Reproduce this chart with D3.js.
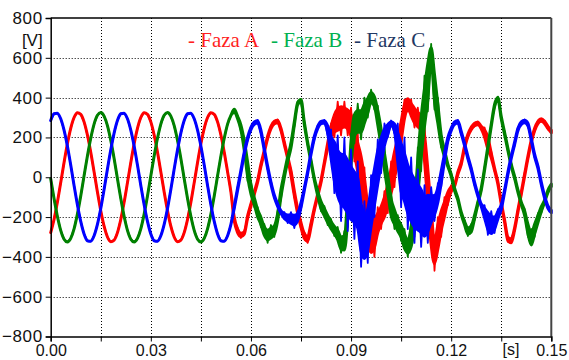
<!DOCTYPE html>
<html>
<head>
<meta charset="utf-8">
<script src="https://cdn.jsdelivr.net/npm/d3@7/dist/d3.min.js"></script>
<style>
  body { margin: 0; background: #fff; }
  svg { display: block; }
</style>
</head>
<body>
<div id="chart"></div>
<script>
// one sample every millisecond, 0 .. 0.15 s
const T_STEP = 0.001

// Faza A (red), volts
const fazaA = [
  -278, -212, -126, -27, 74, 168, 246, 300, 324, 316, 278, 212, 126, 27, -74, -168, -246, -300, -324, -316,
  -278, -212, -126, -27, 74, 168, 246, 300, 324, 316, 278, 212, 126, 27, -74, -168, -246, -300, -324, -316,
  -278, -212, -126, -27, 74, 168, 246, 300, 324, 316, 278, 212, 126, 27, -74,
  -210, -270, -290, -280, -200,
  -140, -80, -20, 60, 130, 200, 250, 275, 280, 240,
  170, 100, 20, -80, -170, -240, -295, -310, -240, -160,
  -90, -20, 70, 160, 230, 270, 290, 300, 300, 290,
  260, 180, 100, 20, -80, -230, -300, -280, -230, -190,
  -150, -90, -20, 60, 140, 230, 330, 370, 340, 310,
  290, 270, 150, -50, -250, -380, -300, -220, -160, -100,
  -60, -40, 20, 70, 150, 210, 245, 265, 270, 250,
  220, 170, 110, 40, -30, -130, -220, -310, -320, -260,
  -170, -80, 10, 100, 180, 240, 275, 288, 275, 250, 230
]
// Faza B (green)
const fazaB = [
  -7, -107, -196, -267, -311, -325, -307, -259, -185, -94, 7, 107, 196, 267, 311, 325, 307, 259, 185, 94,
  -7, -107, -196, -267, -311, -325, -307, -259, -185, -94, 7, 107, 196, 267, 311, 325, 307, 259, 185, 94,
  -7, -107, -196, -267, -311, -325, -307, -259, -185, -94, 7, 107, 196, 267, 311,
  335, 300, 250, 160, 40,
  -60, -120, -180, -220, -270, -290, -280, -265, -200, -80,
  10, 90, 160, 270, 370, 385, 270, 170, 80, -10,
  -80, -140, -175, -210, -240, -265, -290, -330, -330, -150,
  120, 260, 280, 280, 320, 360, 400, 380, 300, 200,
  80, -30, -150, -200, -240, -270, -320, -350, -300, -200,
  0, 200, 350, 480, 620, 450, 320, 190, 120, 60,
  10, -60, -110, -180, -230, -270, -260, -200, -130, -60,
  40, 150, 260, 360, 395, 300, 220, 140, 60, 0,
  -70, -130, -180, -260, -310, -260, -210, -160, -120, -70, -40
]
// Faza C (blue)
const fazaC = [
  285, 319, 322, 294, 237, 157, 61, -41, -138, -222, -285, -319, -322, -294, -237, -157, -61, 41, 138, 222,
  285, 319, 322, 294, 237, 157, 61, -41, -138, -222, -285, -319, -322, -294, -237, -157, -61, 41, 138, 222,
  285, 319, 322, 294, 237, 157, 61, -41, -138, -222, -285, -319, -322, -294, -237,
  -150, -60, 30, 120, 195,
  245, 272, 278, 230, 140, 50, -30, -95, -140, -175,
  -195, -205, -210, -215, -200, -140, -60, 25, 120, 200,
  250, 275, 278, 240, 150, 80, 20, -10, -20, -50,
  -80, -100, -130, -250, -300, -260, -150, -50, 50, 130,
  200, 240, 270, 250, 150, 50, 0, -60, -100, -130,
  -150, -170, -200, -180, -160, -140, -90, 0, 100, 190,
  240, 272, 278, 225, 165, 100, 40, -30, -90, -140,
  -180, -220, -240, -230, -190, -150, -70, 20, 100, 170,
  240, 272, 280, 265, 190, 110, 50, -30, -100, -150, -172
]

// half width of the high frequency ripple around each trace, volts
const rippleA = [
  0, 0, 0, 0, 0, 0, 0, 0, 0, 0, 0, 0, 0, 0, 0, 0, 0, 0, 0, 0,
  0, 0, 0, 0, 0, 0, 0, 0, 0, 0, 0, 0, 0, 0, 0, 0, 0, 0, 0, 0,
  0, 0, 0, 0, 0, 0, 0, 0, 0, 0, 0, 0, 0, 0, 0,
  15, 15, 15, 10, 10,
  10, 10, 10, 10, 10, 10, 10, 10, 10, 10,
  10, 10, 20, 20, 20, 20, 20, 20, 15, 10,
  10, 10, 10, 20, 40, 70, 90, 90, 80, 80,
  90, 100, 120, 140, 130, 150, 130, 120, 80, 70,
  80, 90, 100, 110, 100, 80, 60, 40, 50, 60,
  60, 60, 110, 150, 150, 90, 100, 80, 60, 40,
  20, 10, 10, 10, 10, 10, 10, 10, 10, 10,
  30, 50, 20, 10, 10, 10, 10, 15, 15, 10,
  10, 10, 10, 10, 10, 10, 10, 10, 10, 10, 10
]
const rippleB = [
  0, 0, 0, 0, 0, 0, 0, 0, 0, 0, 0, 0, 0, 0, 0, 0, 0, 0, 0, 0,
  0, 0, 0, 0, 0, 0, 0, 0, 0, 0, 0, 0, 0, 0, 0, 0, 0, 0, 0, 0,
  0, 0, 0, 0, 0, 0, 0, 0, 0, 0, 0, 0, 0, 0, 0,
  10, 10, 20, 40, 60,
  40, 30, 30, 30, 35, 40, 40, 35, 30, 30,
  20, 20, 20, 15, 10, 10, 10, 10, 10, 10,
  20, 30, 30, 30, 30, 30, 40, 50, 60, 100,
  100, 90, 90, 90, 80, 60, 40, 40, 60, 70,
  70, 70, 70, 60, 50, 50, 60, 50, 80, 100,
  150, 170, 160, 150, 50, 110, 80, 40, 30, 10,
  10, 10, 10, 10, 15, 25, 25, 15, 10, 10,
  10, 10, 10, 10, 10, 10, 10, 10, 10, 10,
  10, 10, 20, 40, 50, 40, 30, 20, 10, 10, 10
]
const rippleC = [
  0, 0, 0, 0, 0, 0, 0, 0, 0, 0, 0, 0, 0, 0, 0, 0, 0, 0, 0, 0,
  0, 0, 0, 0, 0, 0, 0, 0, 0, 0, 0, 0, 0, 0, 0, 0, 0, 0, 0, 0,
  0, 0, 0, 0, 0, 0, 0, 0, 0, 0, 0, 0, 0, 0, 0,
  10, 10, 10, 10, 10,
  10, 10, 10, 10, 10, 10, 10, 10, 10, 10,
  20, 25, 35, 40, 30, 20, 10, 10, 10, 10,
  10, 10, 10, 30, 90, 160, 190, 210, 220, 220,
  220, 210, 210, 200, 180, 170, 160, 150, 140, 110,
  70, 40, 15, 30, 120, 200, 200, 200, 200, 200,
  190, 180, 160, 150, 110, 80, 60, 50, 30, 15,
  10, 10, 10, 10, 10, 10, 10, 10, 10, 10,
  40, 70, 70, 50, 30, 20, 10, 10, 10, 10,
  10, 10, 10, 10, 10, 10, 10, 10, 10, 10, 10
]

const yTicks = [-800, -600, -400, -200, 0, 200, 400, 600, 800]
const xTicks = [0, 0.015, 0.03, 0.045, 0.06, 0.075, 0.09, 0.105, 0.12, 0.135, 0.15]
const xLabels = [0, 0.03, 0.06, 0.09, 0.12, 0.15]
const seriesNames = ['Faza A', 'Faza B', 'Faza C']

const LINE_COLORS = ['#ff0000', '#008000', '#0000ff']
const TEXT_COLORS = ['#ff1f1f', '#00b050', '#1f3864']

const WIDTH = 569
const HEIGHT = 360
const LEFT = 50.7
const RIGHT = 551.3
const TOP = 18
const BOTTOM = 336.5
const CORE = 0.6   // part of the ripple band drawn solid
const FONT = "'Liberation Sans', Arial, sans-serif"

const svg = d3.select('#chart').append('svg')
  .attr('width', WIDTH)
  .attr('height', HEIGHT)
  .style('background', '#fff')

const x = d3.scaleLinear().domain([0, 0.15]).range([LEFT, RIGHT])
const y = d3.scaleLinear().domain([-800, 800]).range([BOTTOM, TOP])

// dotted grid
const grid = svg.append('g')
  .attr('stroke', '#000')
  .attr('stroke-width', 1)
  .attr('stroke-dasharray', '1,2')
grid.selectAll('.gy')
  .data(yTicks.slice(1, -1))
  .enter().append('line')
  .attr('x1', LEFT).attr('x2', RIGHT)
  .attr('y1', d => Math.round(y(d)) + 0.5)
  .attr('y2', d => Math.round(y(d)) + 0.5)
grid.selectAll('.gx')
  .data(xTicks.slice(1, -1))
  .enter().append('line')
  .attr('y1', TOP).attr('y2', BOTTOM)
  .attr('x1', d => Math.round(x(d)) + 0.5)
  .attr('x2', d => Math.round(x(d)) + 0.5)

// traces: solid core band around the value, then a zigzag that
// swings to +ripple / -ripple on alternate samples for the spiky fringe
const allSeries = [[fazaA, rippleA], [fazaB, rippleB], [fazaC, rippleC]]
const core = d3.area()
  .x(d => x(d.t))
  .y0(d => y(d.v - d.r * CORE))
  .y1(d => y(d.v + d.r * CORE))
  .curve(d3.curveMonotoneX)
const zigzag = d3.line()
  .x(d => x(d.t))
  .y(d => y(d.v + (d.k % 2 ? -d.r : d.r)))

const plot = svg.append('g')
allSeries.forEach(([vals, rip], i) => {
  const rows = vals.map((v, k) => ({t: k * T_STEP, v: v, r: rip[k], k: k}))
  plot.append('path')
    .datum(rows)
    .attr('d', core)
    .attr('fill', LINE_COLORS[i])
    .attr('stroke', LINE_COLORS[i])
    .attr('stroke-width', 3)
    .attr('stroke-linejoin', 'round')
  plot.append('path')
    .datum(rows)
    .attr('d', zigzag)
    .attr('fill', 'none')
    .attr('stroke', LINE_COLORS[i])
    .attr('stroke-width', 1.8)
    .attr('stroke-linejoin', 'round')
})

// frame
svg.append('line')
  .attr('x1', LEFT).attr('x2', RIGHT).attr('y1', TOP).attr('y2', TOP)
  .attr('stroke', '#000').attr('stroke-width', 1.5)
svg.append('line')
  .attr('x1', RIGHT).attr('x2', RIGHT).attr('y1', TOP).attr('y2', BOTTOM)
  .attr('stroke', '#444').attr('stroke-width', 2)

// axes
const yAxisG = svg.append('g')
  .attr('transform', `translate(${LEFT}, 0)`)
  .call(d3.axisLeft(y).tickValues(yTicks).tickSize(5).tickPadding(3).tickFormat(d3.format('d')))
yAxisG.select('.domain').attr('stroke', '#000').attr('stroke-width', 1.5)
yAxisG.selectAll('.tick line').attr('stroke', '#000')
yAxisG.selectAll('.tick text')
  .attr('font-family', FONT)
  .attr('font-size', '17px')
  .attr('letter-spacing', '0.6px')
  .attr('fill', '#111')

const xAxisG = svg.append('g')
  .attr('transform', `translate(0, ${BOTTOM})`)
  .call(d3.axisBottom(x).tickValues(xTicks).tickSize(5).tickPadding(3)
    .tickFormat(d => xLabels.some(l => Math.abs(l - d) < 1e-9) ? d3.format('.2f')(d) : ''))
xAxisG.select('.domain').attr('stroke', '#000').attr('stroke-width', 1.5)
xAxisG.selectAll('.tick line').attr('stroke', '#000')
xAxisG.selectAll('.tick text')
  .attr('font-family', FONT)
  .attr('font-size', '16px')
  .attr('fill', '#111')

// unit labels
svg.append('text')
  .attr('x', LEFT - 8).attr('y', 46)
  .attr('text-anchor', 'end')
  .attr('font-family', FONT).attr('font-size', '17px').attr('fill', '#111')
  .text('[V]')
svg.append('text')
  .attr('x', 511).attr('y', 355)
  .attr('text-anchor', 'middle')
  .attr('font-family', FONT).attr('font-size', '16px').attr('fill', '#111')
  .text('[s]')

// legend
const legendX = [188, 271, 354]
svg.append('g')
  .attr('font-family', "'Liberation Serif', 'Times New Roman', serif")
  .attr('font-size', '21px')
  .selectAll('text')
  .data(seriesNames)
  .enter().append('text')
  .attr('x', (d, i) => legendX[i])
  .attr('y', 47)
  .attr('xml:space', 'preserve')
  .attr('fill', (d, i) => TEXT_COLORS[i])
  .text(d => '- ' + d)
</script>
</body>
</html>
